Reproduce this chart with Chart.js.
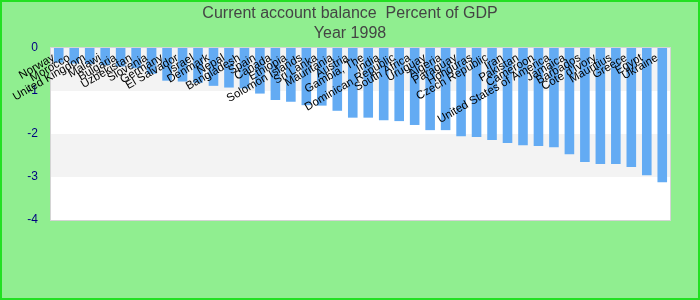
<!DOCTYPE html>
<html>
<head>
<meta charset="utf-8">
<script src="https://cdn.jsdelivr.net/npm/chart.js@4.4.1/dist/chart.umd.min.js"></script>
<style>
  html, body { margin: 0; padding: 0; background: #90EE90; }
  #wrap { width: 700px; height: 300px; position: relative; }
</style>
</head>
<body>
<div id="wrap"><canvas id="c" width="700" height="300"></canvas></div>
<script>
const categories = ["Norway","Morocco","United Kingdom","Malawi","Bulgaria","Uzbekistan","Slovenia","Germany","El Salvador","Israel","Denmark","Nepal","Bangladesh","Spain","Canada","Ethiopia","Solomon Islands","Sri Lanka","Mauritania","Austria","Gambia, The","India","Dominican Republic","South Africa","Uruguay","Algeria","Paraguay","Honduras","Czech Republic","Iran","Pakistan","Cameroon","United States of America","Jamaica","Barbados","Cote d'Ivory","Mauritius","Greece","Egypt","Ukraine"];
const values = [-0.34,-0.36,-0.37,-0.40,-0.43,-0.47,-0.60,-0.76,-0.78,-0.81,-0.88,-0.92,-0.94,-1.06,-1.21,-1.25,-1.33,-1.34,-1.46,-1.62,-1.62,-1.68,-1.70,-1.79,-1.91,-1.91,-2.05,-2.07,-2.14,-2.21,-2.26,-2.28,-2.31,-2.47,-2.65,-2.70,-2.70,-2.77,-2.96,-3.12];
const yTicks = [0,-1,-2,-3,-4];
const titleLines = ["Current account balance  Percent of GDP","Year 1998"];

const decor = {
  id: 'decor',
  beforeDraw(chart) {
    const ctx = chart.ctx;
    ctx.save();
    ctx.fillStyle = '#90EE90';
    ctx.fillRect(0, 0, chart.width, chart.height);
    const a = chart.chartArea, y = chart.scales.y;
    ctx.fillStyle = '#ffffff';
    ctx.fillRect(a.left, a.top, a.right - a.left, a.bottom - a.top);
    ctx.fillStyle = '#f3f3f3';
    for (let k = 0; k < yTicks.length - 1; k += 2) {
      const y1 = y.getPixelForValue(yTicks[k]), y2 = y.getPixelForValue(yTicks[k + 1]);
      ctx.fillRect(a.left, y1, a.right - a.left, y2 - y1);
    }
    ctx.strokeStyle = '#d4d4d4';
    ctx.lineWidth = 1;
    ctx.strokeRect(a.left - 0.5, a.top - 0.5, a.right - a.left + 1, a.bottom - a.top + 1);
    // title
    ctx.fillStyle = '#444444';
    ctx.font = '16px "Liberation Sans", Arial, sans-serif';
    ctx.textAlign = 'center';
    ctx.textBaseline = 'middle';
    titleLines.forEach((t, i) => ctx.fillText(t, chart.width / 2, 14 + i * 20));
    ctx.restore();
  },
  afterDatasetsDraw(chart) {
    const ctx = chart.ctx, x = chart.scales.x, a = chart.chartArea;
    ctx.save();
    ctx.fillStyle = '#000000';
    ctx.font = '11.5px "Liberation Sans", Arial, sans-serif';
    ctx.textAlign = 'right';
    ctx.textBaseline = 'middle';
    categories.forEach((c, i) => {
      const px = x.getPixelForValue(i);
      ctx.save();
      ctx.translate(px - 5, a.top + 9);
      ctx.rotate(-30 * Math.PI / 180);
      ctx.fillText(c, 0, 0);
      ctx.restore();
    });
    ctx.restore();
  },
  afterDraw(chart) {
    const ctx = chart.ctx;
    ctx.save();
    ctx.strokeStyle = '#22e022';
    ctx.lineWidth = 2;
    ctx.strokeRect(1, 1, chart.width - 2, chart.height - 2);
    ctx.restore();
  }
};

new Chart(document.getElementById('c'), {
  type: 'bar',
  data: {
    labels: categories,
    datasets: [{
      data: values,
      backgroundColor: '#63abf3',
      borderWidth: 0,
      categoryPercentage: 1.0,
      barPercentage: 0.62
    }]
  },
  options: {
    responsive: false,
    animation: false,
    devicePixelRatio: 1,
    layout: { padding: { left: 0, right: 30, top: 48, bottom: 80 } },
    plugins: {
      legend: { display: false },
      tooltip: { enabled: false },
      title: { display: false }
    },
    scales: {
      x: { display: false },
      y: {
        min: -4, max: 0,
        afterFit(s) { s.width = 51; },
        ticks: {
          stepSize: 1,
          color: '#000080',
          font: { family: '"Liberation Sans", Arial, sans-serif', size: 12 },
          padding: 5
        },
        grid: { display: false },
        border: { display: false }
      }
    }
  },
  plugins: [decor]
});
</script>
</body>
</html>
